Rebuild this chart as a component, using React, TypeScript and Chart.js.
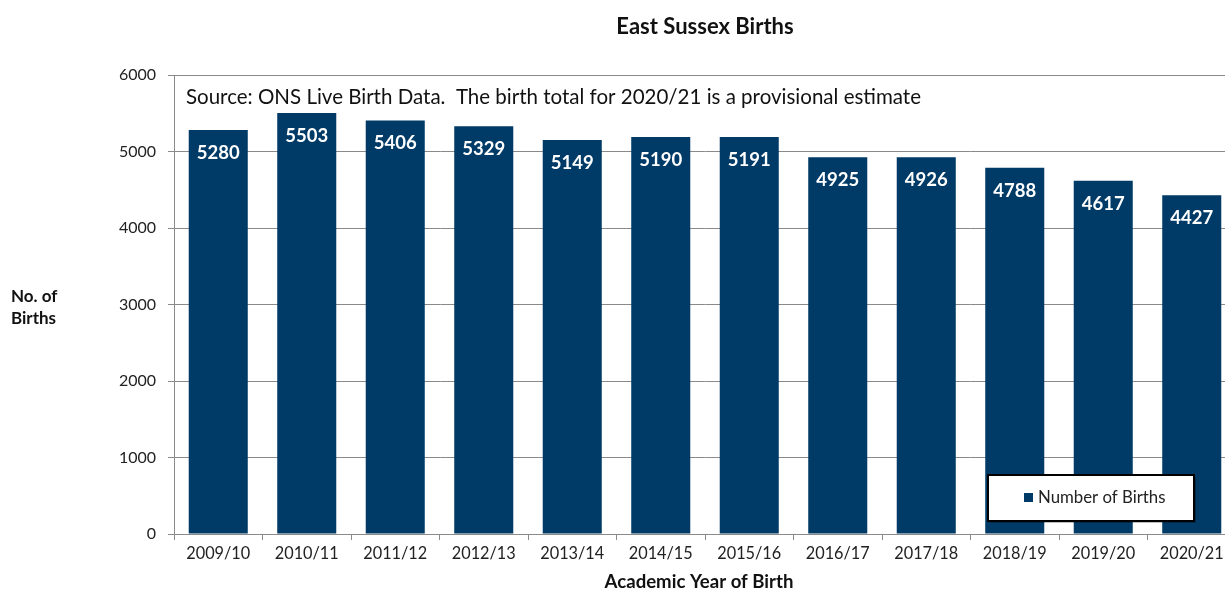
import React, { useEffect, useRef } from "react";
import { Chart, registerables } from "chart.js";

Chart.register(...registerables);

const categories = ["2009/10", "2010/11", "2011/12", "2012/13", "2013/14", "2014/15", "2015/16", "2016/17", "2017/18", "2018/19", "2019/20", "2020/21"];
const births = [5280, 5503, 5406, 5329, 5149, 5190, 5191, 4925, 4926, 4788, 4617, 4427];
const yTicks = [0, 1000, 2000, 3000, 4000, 5000, 6000];
const chartTitle = "East Sussex Births";
const yTitleLines = ["No. of", "Births"];
const xTitle = "Academic Year of Birth";
const note = "Source: ONS Live Birth Data.  The birth total for 2020/21 is a provisional estimate";
const seriesName = "Number of Births";

const FONT = "Lato, 'Open Sans', sans-serif";
const BAR = "#003A66";
const GRID = "#8a8a8a";

const overlay = {
  id: "overlay",
  afterDraw(chart: any) {
    const ctx = chart.ctx;
    const a = chart.chartArea;
    ctx.save();
    // plot border
    ctx.strokeStyle = GRID;
    ctx.lineWidth = 1;
    ctx.strokeRect(a.left + 0.5, a.top + 0.5, a.right - a.left, a.bottom - a.top);
    // title
    ctx.fillStyle = "#111";
    ctx.font = `bold 22px ${FONT}`;
    ctx.textAlign = "center";
    ctx.textBaseline = "middle";
    ctx.fillText(chartTitle, (a.left + a.right) / 2, 27);
    // x title
    ctx.font = `bold 18.6px ${FONT}`;
    ctx.fillText(xTitle, (a.left + a.right) / 2 - 6, 582);
    // y title
    ctx.textAlign = "left";
    ctx.font = `bold 17px ${FONT}`;
    ctx.fillText(yTitleLines[0], 11, 297);
    ctx.fillText(yTitleLines[1], 11, 319);
    // note
    ctx.font = `20.5px ${FONT}`;
    ctx.fillStyle = "#111";
    ctx.textBaseline = "alphabetic";
    ctx.fillText(note, 186, 104);
    // value labels
    const meta = chart.getDatasetMeta(0);
    ctx.font = `bold 18.5px ${FONT}`;
    ctx.fillStyle = "#ffffff";
    ctx.textAlign = "center";
    ctx.textBaseline = "middle";
    meta.data.forEach((bar: any, i: number) => {
      ctx.fillText(String(births[i]), bar.x, bar.y + 23);
    });
    // legend
    const lx = 988, ly = 475, lw = 206, lh = 46;
    ctx.fillStyle = "rgba(0,0,0,0.25)";
    ctx.fillRect(lx + 2, ly + 2, lw, lh);
    ctx.fillStyle = "#fff";
    ctx.fillRect(lx, ly, lw, lh);
    ctx.strokeStyle = "#000";
    ctx.lineWidth = 2;
    ctx.strokeRect(lx, ly, lw, lh);
    ctx.fillStyle = BAR;
    ctx.fillRect(1024, 493, 9, 9);
    ctx.fillStyle = "#222";
    ctx.font = `16.8px ${FONT}`;
    ctx.textAlign = "left";
    ctx.textBaseline = "middle";
    ctx.fillText(seriesName, 1038, 498);
    ctx.restore();
  },
};

export default function App() {
  const ref = useRef<HTMLCanvasElement | null>(null);
  useEffect(() => {
    document.body.style.margin = "0";
    document.body.style.overflow = "hidden";
    const chart = new Chart(ref.current as HTMLCanvasElement, {
      type: "bar",
      data: {
        labels: categories,
        datasets: [
          {
            label: seriesName,
            data: births,
            backgroundColor: BAR,
            categoryPercentage: 1,
            barPercentage: 0.667,
          },
        ],
      },
      options: {
        animation: false,
        responsive: false,
        maintainAspectRatio: false,
        layout: { padding: { top: 75, right: 4, left: 0, bottom: 0 } },
        plugins: { legend: { display: false }, title: { display: false }, tooltip: { enabled: false } },
        scales: {
          x: {
            grid: { drawOnChartArea: false, drawTicks: true, tickLength: 6, color: GRID, offset: true },
            border: { display: true, color: GRID },
            ticks: { color: "#222", font: { family: FONT, size: 16.3 }, padding: 4, maxRotation: 0, autoSkip: false },
            afterFit: (s: any) => { s.height = 56; },
          },
          y: {
            min: 0,
            max: 6000,
            afterBuildTicks: (s: any) => { s.ticks = yTicks.map((v) => ({ value: v })); },
            grid: { color: GRID, tickLength: 6 },
            border: { display: true, color: GRID },
            ticks: { color: "#222", font: { family: FONT, size: 16 }, padding: 12, callback: (v: any) => String(v) },
            afterFit: (s: any) => { s.width = 174; },
          },
        },
      },
      plugins: [overlay],
    });
    return () => chart.destroy();
  }, []);
  return (
    <div style={{ width: 1225, height: 590, overflow: "hidden" }}>
      <canvas ref={ref} width={1240} height={590} style={{ display: "block" }} />
    </div>
  );
}
